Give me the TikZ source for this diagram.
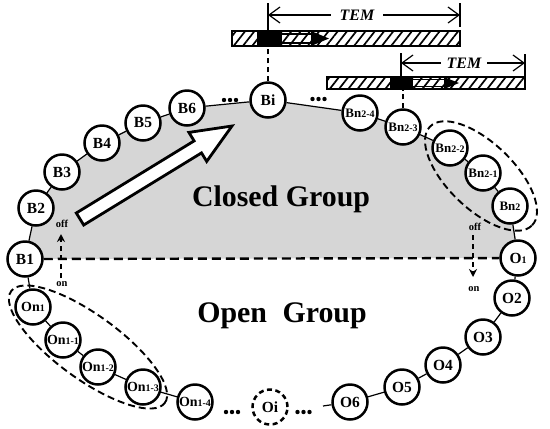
\documentclass[tikz,border=0pt]{standalone}
\usepackage{fontspec}
\setmainfont{Liberation Serif}
\usetikzlibrary{arrows.meta,patterns.meta,shapes.geometric}
\newcommand{\ix}[1]{{\fontsize{10}{10}\selectfont #1}}
\newcommand{\lb}[1]{\makebox[0pt]{#1}}
\begin{document}
\begin{tikzpicture}[x=1bp,y=-1bp,
  nd/.style={circle,draw,line width=2.5bp,fill=white,minimum size=35bp,inner sep=0pt,font=\fontsize{15.5}{16}\selectfont\bfseries},
  ndn/.style={nd,font=\fontsize{13}{13}\selectfont\bfseries},
  ndo/.style={nd,font=\fontsize{14}{14}\selectfont\bfseries},
  lk/.style={line width=1.2bp},
  grp/.style={draw,line width=1.9bp,dash pattern=on 7bp off 4bp},
  vdash/.style={line width=1.8bp,dash pattern=on 5bp off 4bp},
  hatch/.style={pattern={Lines[angle=52,distance=7.3bp,line width=1.7bp]}},
  dim/.style={line width=1.2bp,{Straight Barb[length=11bp,width=16bp]}-{Straight Barb[length=11bp,width=16bp]}},
  tem/.style={fill=white,inner xsep=9pt,inner ysep=2pt,font=\fontsize{16}{16}\selectfont\bfseries\itshape},
  big/.style={font=\fontsize{30}{30}\selectfont\bfseries,anchor=base},
  sm/.style={font=\fontsize{10.5}{10.5}\selectfont\bfseries,inner sep=0pt},
  dot/.style={radius=2.2bp}
]
\useasboundingbox (0,0) rectangle (550,428);
% closed group area
\fill[black!16] (25,259) -- (36,208) -- (62,172) -- (102,143) -- (143,123) -- (187,108) -- (268,100) -- (360,113) -- (403,127) -- (450,148) -- (483,173) -- (510,206) -- (518,258) -- cycle;

% TEM bars
\node[draw,line width=1.3bp,hatch,minimum width=228bp,minimum height=15bp,inner sep=0pt] (bar1) at (346,38.5) {};
\fill (257,31) rectangle (282,46);
\fill[white] (282,34) rectangle (313,43);
\fill[hatch] (282,34) rectangle (313,43);
\draw[line width=1.3bp] (282,34) -- (313,34) (282,43) -- (313,43);
\fill (311,31) -- (329,38.5) -- (311,46) -- cycle;
\node[draw,line width=1.3bp,hatch,minimum width=198bp,minimum height=12bp,inner sep=0pt] (bar2) at (426,83) {};
\fill (390,77) rectangle (413,89);
\fill[white] (413,79.5) rectangle (446,86.5);
\fill[hatch] (413,79.5) rectangle (446,86.5);
\draw[line width=1.3bp] (413,79.5) -- (446,79.5) (413,86.5) -- (446,86.5);
\fill (444,77) -- (459,83) -- (444,89) -- cycle;

% dimensions
\coordinate (t1a) at (268,3); \coordinate (t1b) at (268,31);
\coordinate (t1c) at (460,3); \coordinate (t1d) at (460,27);
\draw[line width=1.2bp] (t1a) -- (t1b) (t1c) -- (t1d);
\draw[dim] (268,15) -- (460,15);
\node[tem] (tem1) at (357,15) {TEM};
\coordinate (t2a) at (401,53); \coordinate (t2b) at (401,77);
\coordinate (t2c) at (525,54); \coordinate (t2d) at (525,77);
\draw[line width=1.2bp] (t2a) -- (t2b) (t2c) -- (t2d);
\draw[dim] (401,63) -- (525,63);
\node[tem,inner xsep=6pt] (tem2) at (464,63) {TEM};

% nodes
\node[nd] (B1) at (25,259) {\lb{B1}};
\node[nd] (B2) at (36,208) {\lb{B2}};
\node[nd] (B3) at (62,172) {\lb{B3}};
\node[nd] (B4) at (102,143) {\lb{B4}};
\node[nd] (B5) at (143,123) {\lb{B5}};
\node[nd] (B6) at (187,108) {\lb{B6}};
\node[nd] (Bi) at (268,100) {\lb{Bi}};
\node[ndn] (Bn4) at (360,113) {\lb{Bn\ix{2-4}}};
\node[ndn] (Bn3) at (403,127) {\lb{Bn\ix{2-3}}};
\node[ndn] (Bn2) at (450,148) {\lb{Bn\ix{2-2}}};
\node[ndn] (Bn1) at (483,173) {\lb{Bn\ix{2-1}}};
\node[ndn] (Bn0) at (510,206) {\lb{Bn\ix{2}}};
\node[nd] (O1) at (518,258) {\lb{O\ix{1}}};
\node[nd] (O2) at (512,298) {\lb{O2}};
\node[nd] (O3) at (483,337) {\lb{O3}};
\node[nd] (O4) at (443,365) {\lb{O4}};
\node[nd] (O5) at (402,387) {\lb{O5}};
\node[nd] (O6) at (350,402) {\lb{O6}};
\node[nd,dash pattern=on 5bp off 3.5bp] (Oi) at (270,407) {\lb{Oi}};
\node[ndo] (On4) at (195,402) {\lb{On\ix{1-4}}};
\node[ndo] (On3) at (143,387) {\lb{On\ix{1-3}}};
\node[ndo] (On2) at (98,367) {\lb{On\ix{1-2}}};
\node[ndo] (On1m) at (63,340) {\lb{On\ix{1-1}}};
\node[ndo] (On1) at (33,307) {\lb{On\ix{1}}};

% chain links
\draw[lk] (B1) -- (B2) -- (B3) -- (B4) -- (B5) -- (B6) -- (Bi) -- (Bn4) -- (Bn3) -- (Bn2) -- (Bn1) -- (Bn0) -- (O1) -- (O2) -- (O3) -- (O4) -- (O5) -- (O6);
\draw[lk] (B1) -- (On1) -- (On1m) -- (On2) -- (On3) -- (On4);
\coordinate (o6end) at (323,406);
\draw[lk] (O6) -- (o6end);

% dots
\fill (224,100) circle[dot] (230,100) circle[dot] (236,100) circle[dot];
\fill (312.5,99) circle[dot] (318.5,99) circle[dot] (324.5,99) circle[dot];
\fill (226,412) circle[dot] (232,412) circle[dot] (238,412) circle[dot];
\fill (297.5,412) circle[dot] (303.5,412) circle[dot] (309.5,412) circle[dot];

% boundary
\draw[line width=2.4bp,dash pattern=on 9bp off 5bp] (B1) -- (O1);

% dashed ties to bars
\draw[vdash] (Bi) -- (Bi |- bar1.south);
\draw[vdash] (Bn3) -- (Bn3 |- bar2.south);

% groups
\node[ellipse,grp,minimum width=190bp,minimum height=64bp,rotate=-36] (E1) at (88,347) {};
\node[ellipse,grp,minimum width=142bp,minimum height=66bp,rotate=-44] (E2) at (481,176) {};

% big arrow
\draw[line width=2.8bp,fill=white,line join=miter] (76.3,213) -- (194.1,140.9) -- (188.9,132.4) -- (232,126) -- (206.7,161.4) -- (201.5,152.9) -- (83.7,225) -- cycle;

% on/off
\coordinate (lonA) at (61,278); \coordinate (lonB) at (61,234);
\draw[vdash,-{Stealth[length=8bp,width=8bp]}] (lonA) -- (lonB);
\node[sm] (loff) at (62,224) {off};
\node[sm] (lon) at (62,284) {on};
\coordinate (ronA) at (473,235); \coordinate (ronB) at (473,277);
\draw[vdash,-{Stealth[length=8bp,width=8bp]}] (ronA) -- (ronB);
\node[sm] (roff) at (475,227) {off};
\node[sm] (ron) at (474,289) {on};

% group titles
\node[big] (closed) at (281,206) {Closed Group};
\node[big] (open) at (282,322) {Open\hspace{8bp} Group};
\end{tikzpicture}
\end{document}
